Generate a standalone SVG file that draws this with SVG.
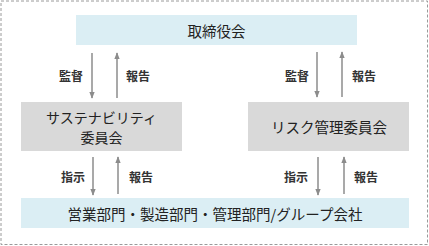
<svg xmlns="http://www.w3.org/2000/svg" width="429" height="246" viewBox="0 0 429 246">
<style>
.t{font-family:"Noto Sans CJK JP","Noto Sans CJK SC",sans-serif;font-size:14.5px;fill:#222;text-anchor:middle;dominant-baseline:central}
.l{font-family:"Noto Sans CJK JP","Noto Sans CJK SC",sans-serif;font-size:12px;font-weight:bold;fill:#333;text-anchor:middle;dominant-baseline:central}
.blue{fill:#dbeef4}
.gray{fill:#d9d9d9}
.a{stroke:#8c8c8c;stroke-width:1.5;fill:none;marker-end:url(#ah)}
</style>
<defs>
<marker id="ah" viewBox="0 0 10 10" refX="9" refY="5" markerWidth="4.5" markerHeight="4.5" orient="auto" markerUnits="strokeWidth">
<path d="M0,1 L10,5 L0,9 z" fill="#8c8c8c"/>
</marker>
</defs>
<rect x="1" y="1" width="426.5" height="243.5" fill="#fff" stroke="#9a9a9a" stroke-width="1" stroke-dasharray="3,2"/>
<g id="board"><rect class="blue" x="76" y="15" width="281" height="30"/><text class="t" x="216.5" y="30">取締役会</text></g>
<g id="sustain"><rect class="gray" x="21" y="102" width="161" height="49"/><text class="t" x="101.5" y="116.5" style="font-size:14px">サステナビリティ</text><text class="t" x="101.5" y="137" style="font-size:14px">委員会</text></g>
<g id="risk"><rect class="gray" x="248" y="102" width="161" height="49"/><text class="t" x="329" y="126.5">リスク管理委員会</text></g>
<g id="depts"><rect class="blue" x="21" y="198" width="388" height="30"/><text class="t" x="215" y="213">営業部門・製造部門・管理部門/グループ会社</text></g>
<g id="connectors">
<line class="a" x1="92" y1="53" x2="92" y2="98"/>
<line class="a" x1="117" y1="98" x2="117" y2="53"/>
<line class="a" x1="317" y1="52" x2="317" y2="97"/>
<line class="a" x1="342" y1="97" x2="342" y2="52"/>
<line class="a" x1="93" y1="157" x2="93" y2="195"/>
<line class="a" x1="118" y1="194" x2="118" y2="157"/>
<line class="a" x1="318" y1="157" x2="318" y2="195"/>
<line class="a" x1="344" y1="194" x2="344" y2="157"/>
<text class="l" x="71" y="75">監督</text>
<text class="l" x="138" y="75">報告</text>
<text class="l" x="297" y="75">監督</text>
<text class="l" x="364" y="75">報告</text>
<text class="l" x="73" y="176">指示</text>
<text class="l" x="141" y="176">報告</text>
<text class="l" x="296" y="176">指示</text>
<text class="l" x="366" y="176">報告</text>
</g>
</svg>
